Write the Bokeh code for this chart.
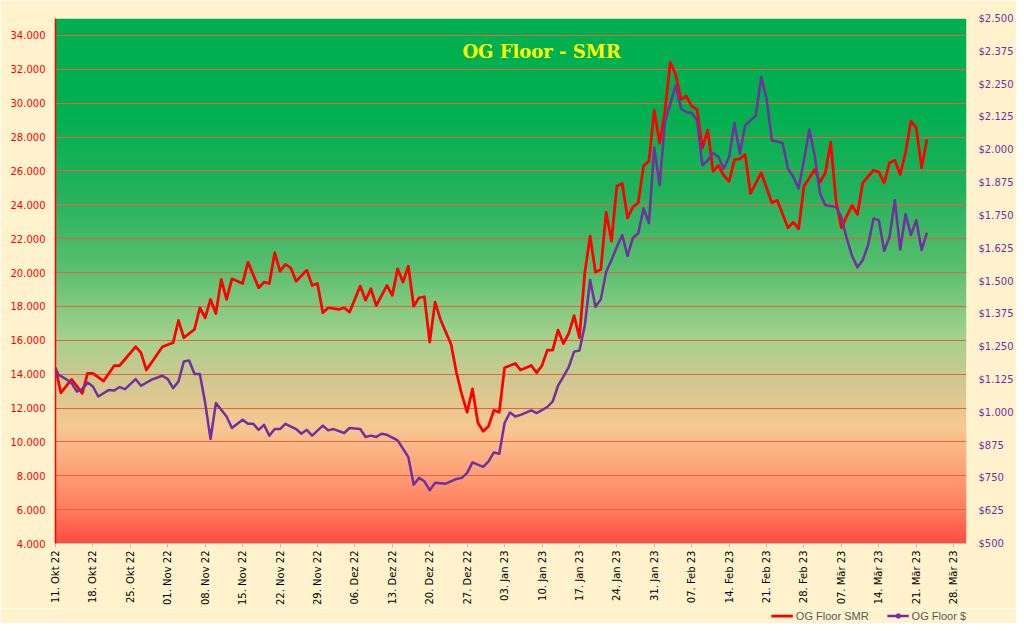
import numpy as np
import pandas as pd
from bokeh.plotting import figure
from bokeh.layouts import column
from bokeh.models import Range1d, LinearAxis, FixedTicker, Label, Legend, LegendItem
from bokeh.embed import file_html
from bokeh.resources import INLINE

start = pd.Timestamp("2022-10-11")

# days after 11 Oct 2022, floor price in SMR
smr_day = [0, 1, 3, 4, 5, 6, 7, 9, 11, 12,
           15, 16, 17, 19, 20, 22, 23, 24, 26, 27,
           28, 29, 30, 31, 32, 33, 35, 36, 38, 39,
           40, 41, 42, 43, 44, 45, 47, 48, 49, 50,
           51, 53, 54, 55, 57, 58, 59, 60, 62, 63,
           64, 65, 66, 67, 68, 69, 70, 71, 72, 74,
           75, 76, 77, 78, 79, 80, 81, 82, 83, 84,
           86, 87, 89, 90, 91, 92, 93, 94, 95, 96,
           97, 98, 99, 100, 101, 102, 103, 104, 105, 106,
           107, 108, 109, 110, 111, 112, 113, 114, 115, 116,
           117, 118, 119, 120, 121, 122, 123, 124, 125, 126,
           127, 128, 129, 130, 132, 134, 135, 137, 138, 139,
           140, 142, 143, 144, 145, 146, 147, 148, 149, 150,
           151, 153, 154, 155, 156, 157, 158, 159, 160, 161,
           162, 163]
smr_value = [14380, 12900, 13690, 13290, 12860, 14040, 14040, 13590, 14510, 14510,
             15620, 15260, 14240, 15160, 15620, 15850, 17170, 16150, 16640, 17920,
             17330, 18410, 17580, 19590, 18410, 19630, 19350, 20610, 19100, 19430,
             19350, 21170, 20080, 20480, 20280, 19490, 20140, 19240, 19350, 17620,
             17920, 17820, 17920, 17660, 19200, 18370, 19040, 18050, 19240, 18650,
             20220, 19430, 20380, 18010, 18510, 18570, 15890, 18250, 17230, 15750,
             14080, 12800, 11750, 13130, 11130, 10630, 10930, 11870, 11750, 14380,
             14630, 14240, 14510, 14080, 14510, 15420, 15420, 16600, 15810, 16400,
             17460, 16150, 19980, 22150, 20020, 20180, 23560, 21850, 25100, 25260,
             23230, 23870, 24120, 26300, 26580, 29590, 27640, 29530, 32420, 31690,
             30220, 30410, 29820, 29630, 27360, 28400, 25980, 26320, 25730, 25390,
             26670, 26710, 26970, 24670, 25890, 24120, 24270, 22640, 22970, 22580,
             25100, 26080, 25330, 25890, 27700, 24210, 22640, 23330, 23960, 23430,
             25300, 26040, 25930, 25300, 26480, 26630, 25790, 27070, 28940, 28550,
             26190, 27860]

# days after 11 Oct 2022, floor price in USD
usd_day = [0, 2, 3, 4, 5, 6, 7, 8, 10, 11,
           12, 13, 15, 16, 18, 20, 21, 22, 23, 24,
           25, 26, 27, 28, 29, 30, 32, 33, 35, 36,
           37, 38, 39, 40, 41, 42, 43, 45, 46, 47,
           48, 50, 51, 52, 54, 55, 57, 58, 59, 60,
           61, 62, 64, 66, 67, 68, 69, 70, 71, 73,
           75, 76, 77, 78, 80, 81, 82, 83, 84, 85,
           86, 87, 89, 90, 92, 93, 94, 95, 96, 97,
           98, 99, 100, 101, 102, 103, 104, 105, 106, 107,
           108, 109, 110, 111, 112, 113, 114, 116, 117, 118,
           119, 120, 121, 122, 123, 124, 125, 126, 127, 128,
           129, 131, 132, 133, 134, 136, 137, 138, 139, 140,
           141, 142, 143, 144, 146, 147, 148, 149, 150, 151,
           152, 153, 154, 155, 156, 157, 158, 159, 160, 161,
           162, 163]
usd_value = [1149, 1126, 1111, 1079, 1088, 1113, 1098, 1060, 1085, 1083,
             1096, 1088, 1126, 1101, 1124, 1139, 1126, 1092, 1117, 1193,
             1197, 1146, 1146, 1035, 898, 1035, 984, 940, 971, 956,
             956, 933, 952, 911, 936, 936, 956, 936, 918, 933,
             911, 949, 931, 936, 921, 940, 936, 906, 911, 906,
             918, 914, 893, 829, 724, 750, 737, 703, 731, 728,
             746, 750, 769, 809, 792, 813, 847, 842, 959, 999,
             984, 990, 1007, 997, 1020, 1041, 1101, 1136, 1172, 1231,
             1235, 1330, 1504, 1402, 1430, 1535, 1580, 1630, 1675, 1595,
             1664, 1682, 1776, 1721, 2009, 1865, 2106, 2245, 2156, 2144,
             2140, 2112, 1941, 1960, 1988, 1973, 1928, 1973, 2102, 1986,
             2093, 2131, 2277, 2195, 2036, 2026, 1928, 1897, 1852, 1960,
             2077, 1979, 1833, 1789, 1782, 1744, 1662, 1595, 1552, 1580,
             1637, 1738, 1732, 1615, 1668, 1808, 1620, 1755, 1675, 1732,
             1618, 1684]

tick_labels = ["11. Okt 22", "18. Okt 22", "25. Okt 22", "01. Nov 22", "08. Nov 22",
               "15. Nov 22", "22. Nov 22", "29. Nov 22", "06. Dez 22", "13. Dez 22",
               "20. Dez 22", "27. Dez 22", "03. Jan 23", "10. Jan 23", "17. Jan 23",
               "24. Jan 23", "31. Jan 23", "07. Feb 23", "14. Feb 23", "21. Feb 23",
               "28. Feb 23", "07. Mär 23", "14. Mär 23", "21. Mär 23", "28. Mär 23"]
smr_ticks = list(range(4000, 34001, 2000))
usd_ticks = list(range(500, 2501, 125))

smr_x = start + pd.to_timedelta(smr_day, unit="D")
usd_x = start + pd.to_timedelta(usd_day, unit="D")
tick_dates = pd.date_range(start, periods=len(tick_labels), freq="7D")
tick_ms = [int(d.value // 10**6) for d in tick_dates]

x_end = start + pd.Timedelta(days=170.4)

BG = "#FFF2CC"
RED = "#FF0000"
PURPLE = "#7030A0"

p = figure(width=1016, height=608, x_axis_type="datetime",
           x_range=Range1d(start, x_end), y_range=Range1d(4000, 35000),
           output_backend="svg", toolbar_location=None,
           min_border_left=55, min_border_right=46, min_border_top=18, min_border_bottom=64)
p.extra_y_ranges = {"usd": Range1d(500, 2500)}
p.border_fill_color = BG
p.background_fill_color = BG
p.outline_line_color = None

# green -> beige -> red backdrop
H = 526
stops = [0.0, 0.17, 0.33, 0.48, 0.61, 0.69, 0.78, 0.86, 0.94, 1.0]
sr = [0, 0, 35, 92, 166, 208, 248, 255, 255, 255]
sg = [176, 176, 178, 192, 210, 200, 200, 163, 122, 75]
sb = [80, 80, 92, 112, 142, 144, 146, 122, 94, 64]
f = 1 - (np.arange(H) + 0.5) / H
img = np.empty((H, 1), dtype=np.uint32)
view = img.view(dtype=np.uint8).reshape((H, 1, 4))
view[:, 0, 0] = np.interp(f, stops, sr)
view[:, 0, 1] = np.interp(f, stops, sg)
view[:, 0, 2] = np.interp(f, stops, sb)
view[:, 0, 3] = 255
x0 = start.value / 1e6
p.image_rgba(image=[img], x=x0, y=4000, dw=x_end.value / 1e6 - x0, dh=31000, level="image")

p.xgrid.visible = False
p.ygrid.ticker = FixedTicker(ticks=smr_ticks)
p.ygrid.grid_line_color = "#E4643C"
p.ygrid.grid_line_width = 1

p.line(smr_x, smr_value, color=RED, line_width=2.75, line_join="round")
p.line(usd_x, usd_value, y_range_name="usd", color=PURPLE, line_width=2.5, line_join="round")
p.scatter(usd_x[:1], usd_value[:1], y_range_name="usd", size=6, color=PURPLE)

tick_font = "DejaVu Sans"

xa = p.xaxis[0]
xa.ticker = FixedTicker(ticks=tick_ms)
xa.major_label_overrides = dict(zip(tick_ms, tick_labels))
xa.major_label_orientation = np.pi / 2
xa.major_label_text_font = tick_font
xa.major_label_text_font_size = "10px"
xa.major_label_text_color = "#000000"
xa.axis_line_color = "#BFBFBF"
xa.major_tick_line_color = "#BFBFBF"
xa.major_tick_in = 0
xa.major_tick_out = 4
xa.minor_tick_line_color = None
xa.major_label_standoff = 3

ya = p.yaxis[0]
ya.ticker = FixedTicker(ticks=smr_ticks)
ya.major_label_overrides = {v: f"{v:,}".replace(",", ".") for v in smr_ticks}
ya.major_label_text_color = RED
ya.major_label_text_font = tick_font
ya.major_label_text_font_size = "10px"
ya.axis_line_color = RED
ya.axis_line_width = 1.5
ya.major_tick_line_color = None
ya.major_tick_in = 0
ya.major_tick_out = 0
ya.minor_tick_line_color = None
ya.major_label_standoff = 10

ra = LinearAxis(y_range_name="usd", ticker=FixedTicker(ticks=usd_ticks))
ra.major_label_overrides = {v: "$" + f"{v:,}".replace(",", ".") for v in usd_ticks}
ra.major_label_text_color = PURPLE
ra.major_label_text_font = tick_font
ra.major_label_text_font_size = "10px"
ra.axis_line_color = None
ra.major_tick_line_color = None
ra.major_tick_in = 0
ra.major_tick_out = 0
ra.minor_tick_line_color = None
ra.major_label_standoff = 12
p.add_layout(ra, "right")

title = Label(x=pd.Timestamp("2023-01-09 22:00").value / 1e6, y=33050,
              text="OG Floor - SMR", text_align="center", text_baseline="middle",
              text_font="DejaVu Serif", text_font_style="bold", text_font_size="18px",
              text_color="#FFFF00")
p.add_layout(title)

# legend strip under the chart; its key glyphs sit outside the strip's ranges
lg = figure(width=1016, height=15, x_range=Range1d(0, 1), y_range=Range1d(0, 1),
            output_backend="svg", toolbar_location=None,
            x_axis_location=None, y_axis_location=None,
            min_border_left=0, min_border_right=46, min_border_top=0, min_border_bottom=0)
lg.border_fill_color = BG
lg.background_fill_color = BG
lg.outline_line_color = None
lg.grid.visible = False
k_smr = lg.line([5, 6], [5, 6], color=RED, line_width=2.75)
k_usd = lg.line([5, 6], [5, 6], color=PURPLE, line_width=2.5)
k_dot = lg.scatter([5], [5], size=6, color=PURPLE)
legend = Legend(items=[LegendItem(label="OG Floor SMR", renderers=[k_smr]),
                       LegendItem(label="OG Floor $", renderers=[k_usd, k_dot])],
                orientation="horizontal", location="center_right",
                background_fill_alpha=0, border_line_color=None,
                label_text_font="Liberation Sans", label_text_font_size="11px",
                label_text_color="#595959", glyph_width=22, glyph_height=11,
                label_standoff=3, spacing=18, padding=1, margin=0,
                label_height=11)
lg.add_layout(legend)

page = column(p, lg, spacing=0)

open("out.html", "w").write(file_html(page, INLINE))
